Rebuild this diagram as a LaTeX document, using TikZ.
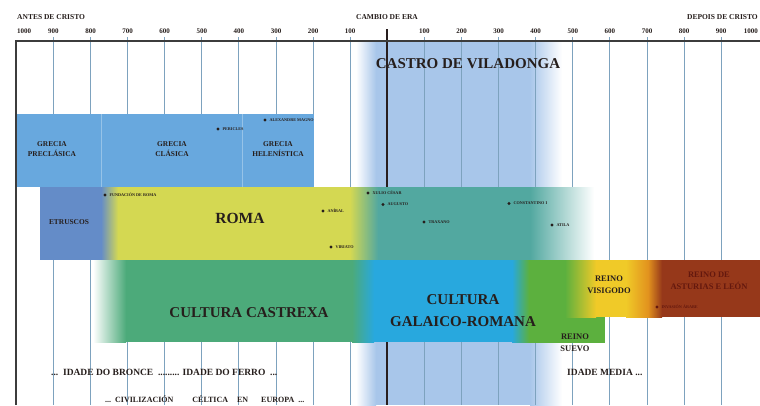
\documentclass[tikz,border=0pt]{standalone}
\usepackage{fontspec}
\setmainfont{Liberation Serif}
\definecolor{castro}{RGB}{168,198,234}
\definecolor{tickc}{RGB}{125,162,190}
\definecolor{framec}{RGB}{60,60,60}
\definecolor{erac}{RGB}{40,30,30}
\definecolor{txt}{RGB}{38,30,28}
\definecolor{grecia}{RGB}{104,168,222}
\definecolor{grecline}{RGB}{150,195,232}
\definecolor{etrus}{RGB}{100,140,200}
\definecolor{roma}{RGB}{212,216,82}
\definecolor{teal}{RGB}{82,168,160}
\definecolor{castrexa}{RGB}{76,170,122}
\definecolor{galaico}{RGB}{40,168,222}
\definecolor{suevo}{RGB}{92,176,62}
\definecolor{visi}{RGB}{240,202,40}
\definecolor{orangec}{RGB}{226,146,30}
\definecolor{brownc}{RGB}{150,56,26}
\definecolor{brtxt}{RGB}{100,24,14}
\tikzset{
  hdr/.style={font=\bfseries\fontsize{7.5}{8}\selectfont, text=txt, inner sep=0pt},
  yr/.style={font=\bfseries\fontsize{7}{8}\selectfont, text=txt, inner sep=0pt},
  tickline/.style={draw=tickc, line width=0.9pt},
  small/.style={font=\bfseries\fontsize{7.4}{9.5}\selectfont, align=center, text=txt, inner sep=0pt},
  mid/.style={font=\bfseries\fontsize{8.5}{12}\selectfont, align=center, text=txt, inner sep=0pt},
  era/.style={font=\bfseries\fontsize{9.5}{12}\selectfont, text=txt, inner sep=0pt},
  big/.style={font=\bfseries\fontsize{15}{22}\selectfont, align=center, text=txt, inner sep=0pt},
  evdot/.style={circle, fill=txt, inner sep=0pt, minimum size=3.2pt},
  evlbl/.style={font=\bfseries\fontsize{4.2}{5}\selectfont, anchor=west, inner sep=0pt, text=txt},
}
\begin{document}
\begin{tikzpicture}[x=1pt,y=-1pt]
\useasboundingbox (0,0) rectangle (760,405);
\clip (0,0) rectangle (760,405);
\fill[white] (0,0) rectangle (760,405);

% Castro de Viladonga background
\fill[castro] (376,41) rectangle (530,405);
\shade[left color=white, right color=castro] (356,41) rectangle (376,405);
\shade[left color=castro, right color=white] (530,41) rectangle (562,405);

% century lines
\foreach \i in {-9,...,-1,1,2,...,9}
  \draw[tickline] ({387.3+37.1*\i},37) -- ({387.3+37.1*\i},405);

% era line
\draw[draw=erac, line width=2pt] (387,29) -- (387,405);

% Grecia band
\fill[grecia] (16,114) rectangle (314,187);
\draw[grecline, line width=0.5pt] (101,114) -- (101,187);
\draw[grecline, line width=0.5pt] (242,114) -- (242,187);

% Roma band
\fill[etrus] (40,187) rectangle (104,260);
\shade[left color=etrus, right color=roma] (101,187) rectangle (118,260);
\fill[roma] (118,187) rectangle (350,260);
\shade[left color=roma, right color=teal] (350,187) rectangle (378,260);
\fill[teal] (378,187) rectangle (530,260);
\shade[left color=teal, right color=white] (530,187) rectangle (594,260);

% Castrexa band
\shade[left color=white, right color=castrexa] (93,260) rectangle (126,342);
\fill[castrexa] (126,260) rectangle (352,342);
\shade[left color=castrexa, right color=galaico] (352,260) rectangle (374,342);
\fill[galaico] (374,260) rectangle (512,342);
\shade[left color=galaico, right color=suevo] (512,260) rectangle (529,342);
\fill[suevo] (529,260) rectangle (605,343);
\shade[left color=suevo, right color=visi] (565,260) rectangle (596,317);
\fill[visi] (596,260) rectangle (626,317);
\shade[left color=visi, right color=orangec] (626,260) rectangle (648,317);
\shade[left color=orangec, right color=brownc] (648,260) rectangle (662,317);
\fill[brownc] (662,260) rectangle (760,317);

% frame
\draw[draw=framec, line width=1.1pt] (16,405) -- (16,41) -- (760,41);

% headers
\node[hdr, anchor=west] (antes) at (17,17) {ANTES DE CRISTO};
\node[hdr] (cambio) at (387,17) {CAMBIO DE ERA};
\node[hdr, anchor=east] (depois) at (758,17) {DEPOIS DE CRISTO};

% year labels
\node[yr, anchor=west] (ym10) at (17,31) {1000};
\foreach \i/\t in {-9/900,-8/800,-7/700,-6/600,-5/500,-4/400,-3/300,-2/200,-1/100,1/100,2/200,3/300,4/400,5/500,6/600,7/700,8/800,9/900}
  \node[yr] (y\i) at ({387.3+37.1*\i},31) {\t};
\node[yr, anchor=east] (yp10) at (758,31) {1000};

% titles
\node[font=\bfseries\fontsize{15}{16}\selectfont, text=txt, inner sep=0pt] (castrot) at (468,64) {CASTRO DE VILADONGA};

\node[small] (gpre) at (52,149) {GRECIA\\PRECLÁSICA};
\node[small] (gcla) at (172,149) {GRECIA\\CLÁSICA};
\node[small] (ghel) at (278,149) {GRECIA\\HELENÍSTICA};

\node[small] (etr) at (69,222) {ETRUSCOS};
\node[font=\bfseries\fontsize{15.5}{18}\selectfont, text=txt, inner sep=0pt] (romat) at (240,218) {ROMA};

\node[big] (castrexat) at (249,313) {CULTURA CASTREXA};
\node[big] (galaicot) at (463,311) {CULTURA\\GALAICO-ROMANA};
\node[mid] (visit) at (609,285) {REINO\\VISIGODO};
\node[mid, text=brtxt] (astut) at (709,281) {REINO DE\\ASTURIAS E LEÓN};
\node[mid] (suevot) at (575,342.5) {REINO\\SUEVO};

\node[era, anchor=west] (bronce) at (51,372) {...\ \ IDADE DO BRONCE \ ......... IDADE DO FERRO \ ...};
\node[font=\bfseries\fontsize{8}{9}\selectfont, text=txt, inner sep=0pt, anchor=base west] (celt) at (105,402.8) {...\ \ CIVILIZACIÓN\hspace{19pt}CÉLTICA\hspace{9pt}EN\hspace{13pt}EUROPA \ ...};
\node[era, anchor=west] (media) at (567,372) {IDADE MEDIA ...};

% events
\foreach \n/\x/\y/\t in {alex/265/120/ALEXANDRE MAGNO, peri/218/129/PERICLES, fund/105/195/FUNDACIÓN DE ROMA, anib/323/211/ANÍBAL, viri/331/247/VIRIATO, xuli/368/193/XULIO CÉSAR, augu/383/204.5/AUGUSTO, trax/424/222/TRAXANO, cons/509/203.5/CONSTANTINO I, atil/552/225/ATILA}
{
  \node[evdot] (\n) at (\x,\y) {};
  \node[evlbl] (\n l) at ([xshift=2.5pt]\n.east) {\t};
}
\node[evdot, fill=brtxt] (inva) at (657,307) {};
\node[evlbl, text=brtxt] (inval) at ([xshift=2.5pt]inva.east) {INVASIÓN ÁRABE};
\end{tikzpicture}
\end{document}
